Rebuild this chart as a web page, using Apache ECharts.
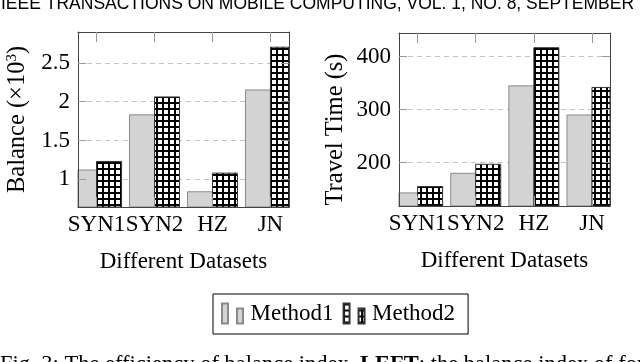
<!DOCTYPE html>
<html>
<head>
<meta charset="utf-8">
<script src="https://cdn.jsdelivr.net/npm/echarts@6/dist/echarts.min.js"></script>
<style>
  html, body { margin: 0; padding: 0; background: #fff; }
  #main { width: 640px; height: 362px; }
</style>
</head>
<body>
<div id="main"></div>
<script>
// datos
var categorias = ['SYN1', 'SYN2', 'HZ', 'JN'];
var balanceM1 = [1.12, 1.83, 0.84, 2.15];
var balanceM2 = [1.23, 2.06, 1.08, 2.70];
var travelM1 = [143, 180, 345, 290];
var travelM2 = [155, 197, 417, 342];
var ticksBalance = [1, 1.5, 2, 2.5];
var ticksTravel = [200, 300, 400];
var posCat = [0, 1, 2, 3];

var serif = 'Liberation Serif';
var anchoBarra = 25;

// patron de rejilla para Method2
var patron = document.createElement('canvas');
patron.width = 6;
patron.height = 6;
var pctx = patron.getContext('2d');
pctx.fillStyle = '#fff';
pctx.fillRect(0, 0, 6, 6);
pctx.fillStyle = '#000';
pctx.fillRect(0, 0, 6, 2);
pctx.fillRect(0, 0, 2, 6);

var myChart = echarts.init(document.getElementById('main'));

function pares(arr) {
  var out = [];
  for (var i = 0; i < arr.length; i++) {
    out.push([posCat[i], arr[i]]);
  }
  return out;
}

function ejeX(grid, min, max, abajo) {
  return {
    type: 'value', gridIndex: grid, min: min, max: max, z: 5,
    position: abajo ? 'bottom' : 'top',
    name: abajo ? 'Different Datasets' : '',
    nameLocation: 'middle', nameGap: 43,
    nameTextStyle: { fontFamily: serif, fontSize: 23, color: '#000' },
    axisLine: { show: true, onZero: false, lineStyle: { color: '#444', width: 1 } },
    axisTick: { show: true, inside: true, length: 10, customValues: posCat, lineStyle: { color: '#999' } },
    axisLabel: {
      show: abajo, customValues: posCat, margin: 6,
      fontFamily: serif, fontSize: 23, color: '#000',
      formatter: function (v) { return categorias[Math.round(v)]; }
    },
    splitLine: { show: false }
  };
}

function ejeY(grid, min, max, ticks, izq, nombre, gap, pad) {
  return {
    type: 'value', gridIndex: grid, min: min, max: max, z: 5,
    position: izq ? 'left' : 'right',
    name: nombre, nameLocation: 'middle', nameGap: gap,
    nameTextStyle: {
      fontFamily: serif, fontSize: 24.5, color: '#000', padding: pad || 0,
      rich: { sup: { fontFamily: serif, fontSize: 15, color: '#000', padding: [0, 0, 11, 0] } }
    },
    axisLine: { show: true, onZero: false, lineStyle: { color: '#444', width: 1 } },
    axisTick: { show: true, inside: true, length: 8, customValues: ticks, lineStyle: { color: '#999' } },
    axisLabel: {
      show: izq, customValues: ticks, margin: 8,
      fontFamily: serif, fontSize: 23, color: '#000'
    },
    splitLine: { show: false }
  };
}

function ejeRejilla(grid, min, max, ticks) {
  return {
    type: 'value', gridIndex: grid, min: min, max: max, z: 0,
    axisLine: { show: false, onZero: false },
    axisTick: { show: false, customValues: ticks },
    axisLabel: { show: false, customValues: ticks },
    splitLine: { show: true, lineStyle: { color: '#c4c4c4', width: 1, type: [5, 4] } }
  };
}

var estiloM1 = { color: '#d3d3d3', borderColor: '#8a8a8a', borderWidth: 1 };
var estiloM2 = { color: { image: patron, repeat: 'repeat' }, borderColor: '#333', borderWidth: 1 };

// barras recortadas al marco del grafico, como en pgfplots
function serieBarra(nombre, xi, yi, valores, estilo, desplazamiento) {
  return {
    name: nombre, type: 'custom', xAxisIndex: xi, yAxisIndex: yi,
    itemStyle: estilo,
    data: pares(valores),
    renderItem: function (params, api) {
      var tope = api.coord([api.value(0), api.value(1)]);
      var cs = params.coordSys;
      var rect = echarts.graphic.clipRectByRect(
        { x: tope[0] + desplazamiento, y: tope[1], width: anchoBarra, height: cs.y + cs.height - tope[1] },
        { x: cs.x, y: cs.y, width: cs.width, height: cs.height }
      );
      if (!rect) return null;
      return {
        type: 'rect', shape: rect,
        style: { fill: estilo.color, stroke: estilo.borderColor, lineWidth: estilo.borderWidth }
      };
    }
  };
}

option = {
  animation: false,
  backgroundColor: '#fff',
  textStyle: { fontFamily: serif },
  grid: [
    { left: 78, top: 32, width: 211, height: 175 },
    { left: 399, top: 33, width: 211, height: 173 }
  ],
  xAxis: [
    ejeX(0, -0.32, 3.32, true),
    ejeX(0, -0.32, 3.32, false),
    ejeX(1, -0.32, 3.31, true),
    ejeX(1, -0.32, 3.31, false)
  ],
  yAxis: [
    ejeY(0, 0.644, 2.896, ticksBalance, true, 'Balance (×10{sup|3})', 47),
    ejeY(0, 0.644, 2.896, ticksBalance, false, '', 0),
    ejeRejilla(0, 0.644, 2.896, ticksBalance),
    ejeY(1, 118.3, 444.7, ticksTravel, true, 'Travel Time (s)', 51, [0, 20, 0, 0]),
    ejeY(1, 118.3, 444.7, ticksTravel, false, '', 0),
    ejeRejilla(1, 118.3, 444.7, ticksTravel)
  ],
  legend: {
    left: 213, top: 294,
    padding: [8, 13, 9, 8],
    itemGap: 9,
    itemWidth: 22, itemHeight: 20,
    borderColor: '#000', borderWidth: 1,
    textStyle: { fontFamily: serif, fontSize: 23, color: '#000', padding: [0, 0, 0, 2] },
    data: [
      { name: 'Method1', icon: 'path://M0,0h6v20h-6z M15,5h6v15h-6z' },
      { name: 'Method2', icon: 'path://M0,0h6v20h-6z M15,5h6v15h-6z' }
    ]
  },
  graphic: [
    {
      type: 'text', left: 1, top: -5,
      style: { text: 'IEEE TRANSACTIONS ON MOBILE COMPUTING, VOL. 1, NO. 8, SEPTEMBER', font: '17.5px "Liberation Sans"', fill: '#000' }
    },
    {
      type: 'text', left: 0, top: 354,
      style: {
        text: 'Fig. 3: The efficiency of balance index. {b|LEFT}: the balance index of four datasets.',
        font: '22.5px "Liberation Serif"', fill: '#000',
        rich: { b: { fontFamily: serif, fontSize: 22.5, fontWeight: 'bold', fill: '#000' } }
      }
    }
  ],
  series: [
    serieBarra('Method1', 0, 0, balanceM1, estiloM1, -anchoBarra),
    serieBarra('Method2', 0, 0, balanceM2, estiloM2, 0),
    serieBarra('Method1', 2, 3, travelM1, estiloM1, -anchoBarra),
    serieBarra('Method2', 2, 3, travelM2, estiloM2, 0)
  ]
};

myChart.setOption(option);
</script>
</body>
</html>
